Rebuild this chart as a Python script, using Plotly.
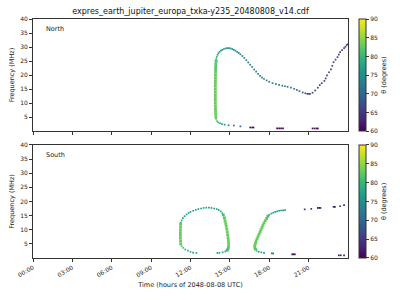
import plotly.graph_objects as go

# ---------------- data ----------------
# North: thin dotted points (hour, freq MHz, theta deg)
n_hour = [13.95, 14.02, 14.12, 14.25, 14.4, 14.6, 14.9, 15.3, 15.8,
          16.55, 16.7, 16.8, 18.6, 18.75, 18.9, 19.05, 21.3, 21.45, 21.6, 21.7,
          13.96, 14.0, 14.06, 14.13, 14.22, 14.32, 14.43, 14.55, 14.68, 14.8,
          14.93, 15.05, 15.18, 15.3, 15.42, 15.55, 15.68, 15.8, 15.95, 16.1,
          16.25, 16.4, 16.55, 16.7, 16.85, 17.0, 17.15, 17.3, 17.45, 17.6,
          17.8, 18.0, 18.25, 18.5, 18.75, 19.0, 19.2, 19.4, 19.65, 19.9,
          20.1, 20.3, 20.55, 20.75, 20.9, 21.0, 21.1,
          21.3, 21.5, 21.7, 21.85, 22.0, 22.2, 22.3, 22.4, 22.55, 22.7,
          22.8, 22.9, 23.05, 23.2, 23.3, 23.4, 23.55, 23.7, 23.8, 23.9, 23.98]
n_freq = [4.4, 3.6, 3.1, 2.8, 2.5, 2.3, 2.1, 2.0, 1.7,
          1.3, 1.3, 1.3, 0.95, 0.95, 0.95, 0.95, 0.95, 0.95, 0.95, 0.95,
          25.8, 26.5, 27.2, 27.8, 28.3, 28.7, 29.0, 29.3, 29.5, 29.6,
          29.6, 29.5, 29.3, 29.0, 28.7, 28.3, 27.9, 27.4, 26.8, 26.1,
          25.3, 24.5, 23.7, 22.9, 22.0, 21.2, 20.4, 19.7, 19.1, 18.6,
          18.1, 17.6, 17.1, 16.8, 16.5, 16.2, 16.0, 15.8, 15.5, 15.1,
          14.7, 14.3, 13.8, 13.5, 13.3, 13.3, 13.3,
          13.7, 14.5, 15.5, 16.4, 17.1, 17.9, 18.8, 19.9, 21.0, 22.0,
          23.3, 24.6, 25.5, 26.4, 27.3, 28.2, 28.9, 29.6, 30.1, 30.7, 31.0]
n_theta = [83, 82, 80, 78, 77, 76, 74, 71, 69,
           61, 61, 61, 60, 60, 60, 60, 61, 61, 61, 61,
           81, 80, 79, 78, 78, 77, 77, 76, 76, 76,
           76, 76, 75, 75, 75, 75, 74, 74, 74, 74,
           73, 73, 73, 73, 73, 73, 73, 73, 73, 73,
           73, 73, 73, 72, 72, 72, 72, 72, 71, 71,
           70, 70, 69, 68, 67, 67, 67,
           67, 67, 66, 66, 66, 66, 66, 66, 66, 66,
           66, 66, 66, 66, 66, 66, 66, 66, 66, 66, 66]

# North: dense (thick) vertical branch
nv_hour = [13.93, 13.92, 13.91, 13.90, 13.90, 13.89, 13.89, 13.89, 13.89, 13.89,
           13.89, 13.89, 13.89, 13.90, 13.90, 13.90, 13.91, 13.91, 13.92, 13.93, 13.95]
nv_freq = [5, 6, 7, 8, 9, 10, 11, 12, 13, 14,
           15, 16, 17, 18, 19, 20, 21, 22, 23, 24, 25]
nv_theta = [83, 83, 83, 83, 83, 83, 83, 83, 83, 83,
            83, 83, 83, 83, 83, 83, 83, 82, 82, 82, 81]

# South: thin dotted points
s_hour = [12.45, 12.2, 12.0, 11.8, 11.6, 11.45, 11.33,
          11.27, 11.33, 11.42, 11.55, 11.7, 11.85, 12.0, 12.2, 12.4, 12.6,
          12.8, 13.0, 13.2, 13.4, 13.6, 13.8, 14.0, 14.15, 14.3, 14.42,
          14.65, 14.45, 14.2, 14.05,
          19.2, 19.05, 18.9, 18.75, 18.6, 18.45, 18.3, 18.15, 18.0,
          17.05, 17.2, 17.4, 17.6, 18.2, 18.3,
          19.75, 19.85, 19.95, 23.3, 23.45, 23.7,
          20.7, 21.2, 21.7, 21.8, 21.9, 22.9, 23.0, 23.4, 23.7]
s_freq = [1.8, 1.9, 2.2, 2.6, 3.0, 3.6, 4.2,
          12.5, 13.3, 14.1, 14.8, 15.4, 15.9, 16.3, 16.7, 17.0, 17.3,
          17.5, 17.7, 17.8, 17.8, 17.7, 17.5, 17.3, 17.0, 16.5, 15.9,
          2.3, 2.0, 1.8, 1.8,
          16.9, 16.85, 16.8, 16.7, 16.5, 16.3, 16.0, 15.7, 15.3,
          2.6, 2.2, 2.0, 1.8, 1.6, 1.6,
          1.3, 1.3, 1.3, 0.95, 0.95, 0.95,
          17.2, 17.4, 17.7, 17.7, 17.7, 18.1, 18.1, 18.3, 18.7]
s_theta = [77, 77, 78, 79, 80, 81, 82,
           80, 79, 78, 78, 78, 77, 77, 77, 77, 77,
           77, 77, 77, 77, 77, 77, 78, 78, 79, 80,
           78, 77, 77, 77,
           76, 76, 76, 77, 77, 77, 78, 79, 80,
           79, 78, 77, 76, 72, 72,
           61, 61, 61, 62, 62, 62,
           65, 64, 62, 62, 62, 62, 62, 63, 62]

# South: dense (thick) branches
sv_hour = [11.25, 11.24, 11.23, 11.23, 11.23, 11.23, 11.24, 11.25,
           14.5, 14.58, 14.63, 14.68, 14.72, 14.77, 14.8, 14.83, 14.86, 14.88,
           14.9, 14.9, 14.88, 14.8,
           17.9, 17.8, 17.7, 17.6, 17.52, 17.45, 17.37, 17.3, 17.22, 17.15,
           17.07, 17.0, 16.95, 16.9, 16.9, 16.95]
sv_freq = [5, 6, 7, 8, 9, 10, 11, 12,
           15.2, 14.2, 13.2, 12.2, 11.2, 10.2, 9.2, 8.2, 7.2, 6.2,
           5.2, 4.3, 3.5, 2.8,
           14.8, 14.0, 13.2, 12.4, 11.6, 10.8, 10.0, 9.2, 8.4, 7.6,
           6.8, 6.0, 5.2, 4.4, 3.7, 3.1]
sv_theta = [83, 83, 83, 83, 83, 83, 83, 82,
            81, 82, 83, 83, 83, 83, 83, 83, 83, 83,
            83, 83, 82, 80,
            81, 82, 83, 83, 83, 83, 83, 83, 83, 83,
            83, 83, 83, 83, 83, 82]

x_tickvals = [0, 3, 6, 9, 12, 15, 18, 21]
x_ticktext = ["00:00", "03:00", "06:00", "09:00", "12:00", "15:00", "18:00", "21:00"]
y_tickvals = [5, 10, 15, 20, 25, 30, 35, 40]

title_text = "expres_earth_jupiter_europa_txka-y235_20480808_v14.cdf"

# ---------------- figure ----------------
FONT = "DejaVu Sans"
fig = go.Figure()

def add(hours, freqs, thetas, size, yaxis, cax):
    fig.add_trace(go.Scatter(
        x=hours, y=freqs, mode="markers", xaxis="x" if yaxis == "y" else "x2", yaxis=yaxis,
        marker=dict(symbol="square", size=size, color=thetas, coloraxis=cax,
                    line=dict(width=0)),
        showlegend=False, hoverinfo="skip"))

add(n_hour, n_freq, n_theta, 1.7, "y", "coloraxis")
add(nv_hour, nv_freq, nv_theta, 2.8, "y", "coloraxis")
add(s_hour, s_freq, s_theta, 1.7, "y2", "coloraxis2")
add(sv_hour, sv_freq, sv_theta, 2.8, "y2", "coloraxis2")

L, R, T, B = 31, 50, 19, 38
H = 300 - T - B
top_dom = [(262 - 133) / H, 1.0]
bot_dom = [0.0, (262 - 147) / H]

axis_common = dict(showline=True, linecolor="#333333", linewidth=1, mirror=True,
                   ticks="outside", ticklen=3, tickcolor="#333333", tickwidth=1,
                   showgrid=False, zeroline=False,
                   tickfont=dict(family=FONT, size=6, color="#222222"))

def cbar(dom):
    return dict(
        x=1.0 + 11 / (400 - L - R), xanchor="left", xref="paper",
        y=(dom[0] + dom[1]) / 2, yanchor="middle", len=dom[1] - dom[0], lenmode="fraction",
        thickness=7, outlinewidth=1, outlinecolor="#333333",
        ticks="outside", ticklen=3, tickcolor="#333333",
        tickvals=[60, 65, 70, 75, 80, 85, 90],
        tickfont=dict(family=FONT, size=6, color="#222222"),
        title=dict(text="θ (degrees)", side="right",
                   font=dict(family=FONT, size=6.5, color="#222222")),
        xpad=0, ypad=0)

fig.update_layout(
    width=400, height=300,
    margin=dict(l=L, r=R, t=T, b=B),
    paper_bgcolor="white", plot_bgcolor="white",
    title=dict(text=title_text, x=(L + (400 - R)) / 2 / 400, xanchor="center",
               y=1 - 11 / 300, yanchor="middle",
               font=dict(family=FONT, size=8, color="#111111")),
    xaxis=dict(domain=[0, 1], anchor="y", range=[0, 24], tickvals=x_tickvals,
               ticktext=x_ticktext, showticklabels=False, **axis_common),
    yaxis=dict(domain=top_dom, anchor="x", range=[0, 40], tickvals=y_tickvals,
               title=dict(text="Frequency (MHz)", standoff=4,
                          font=dict(family=FONT, size=6.5, color="#222222")),
               **axis_common),
    xaxis2=dict(domain=[0, 1], anchor="y2", range=[0, 24], tickvals=x_tickvals,
                ticktext=x_ticktext, tickangle=-30,
                title=dict(text="Time (hours of 2048-08-08 UTC)", standoff=5,
                           font=dict(family=FONT, size=6.5, color="#222222")),
                **axis_common),
    yaxis2=dict(domain=bot_dom, anchor="x2", range=[0, 40], tickvals=y_tickvals,
                title=dict(text="Frequency (MHz)", standoff=4,
                           font=dict(family=FONT, size=6.5, color="#222222")),
                **axis_common),
    coloraxis=dict(colorscale="Viridis", cmin=60, cmax=90, colorbar=cbar(top_dom)),
    coloraxis2=dict(colorscale="Viridis", cmin=60, cmax=90, colorbar=cbar(bot_dom)),
    annotations=[
        dict(text="North", xref="x domain", yref="y domain", x=0.035, y=0.91,
             xanchor="left", yanchor="middle", showarrow=False,
             font=dict(family=FONT, size=6.5, color="#222222")),
        dict(text="South", xref="x2 domain", yref="y2 domain", x=0.035, y=0.91,
             xanchor="left", yanchor="middle", showarrow=False,
             font=dict(family=FONT, size=6.5, color="#222222")),
    ],
)

fig.write_html("out.html")
